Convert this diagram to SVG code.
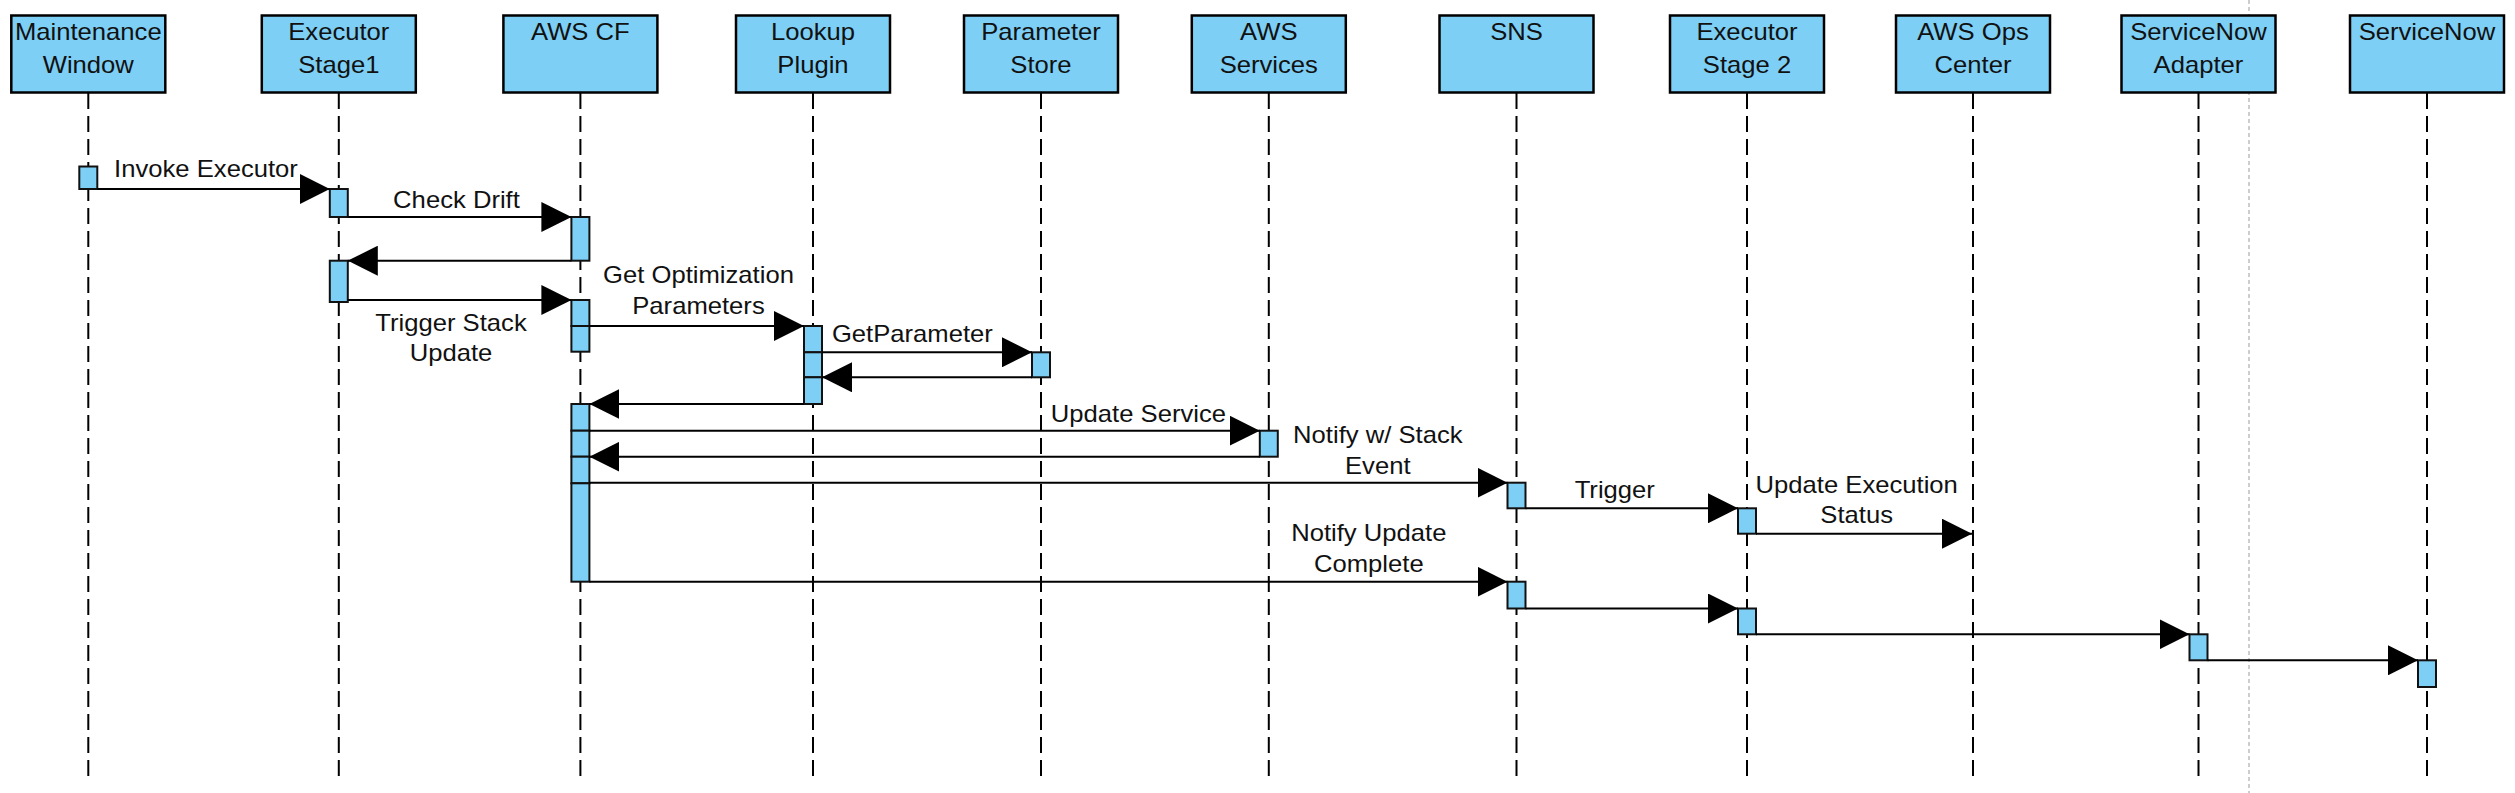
<svg xmlns="http://www.w3.org/2000/svg" width="2515" height="793" viewBox="0 0 2515 793">
<style>
.box{fill:#7dcff5;stroke:#000;stroke-width:2.5}
.act{fill:#7dcff5;stroke:#111;stroke-width:2}
.life{stroke:#000;stroke-width:2;stroke-dasharray:16 7;fill:none}
.msg{stroke:#000;stroke-width:2;fill:none;marker-end:url(#ah)}
.t{font-family:"Liberation Sans",Arial,sans-serif;font-size:23px;fill:#111;text-anchor:middle}
</style>
<defs>
<marker id="ah" markerUnits="userSpaceOnUse" markerWidth="30" markerHeight="30" refX="29" refY="14.5" orient="auto" viewBox="0 0 29 29"><path d="M0,0L29,14.5L0,29z" fill="#000"/></marker>
</defs>
<rect x="0" y="0" width="2515" height="793" fill="#fff"/>
<line x1="2249" y1="0" x2="2249" y2="793" stroke="#bdbdbd" stroke-width="1.5" stroke-dasharray="4 3"/>

<g id="maintenance-window">
<line class="life" x1="88.3" y1="93" x2="88.3" y2="780"/>
<rect class="box" x="11.3" y="15.5" width="154" height="77"/>
<text class="t" transform="scale(1.115,1)" x="79.19" y="40.5">Maintenance</text>
<text class="t" transform="scale(1.115,1)" x="79.19" y="73">Window</text>
<rect class="act" x="79.3" y="166.5" width="18" height="22.5"/>
</g>

<g id="executor-stage1">
<line class="life" x1="338.8" y1="93" x2="338.8" y2="780"/>
<rect class="box" x="261.8" y="15.5" width="154" height="77"/>
<text class="t" transform="scale(1.115,1)" x="303.86" y="40.5">Executor</text>
<text class="t" transform="scale(1.115,1)" x="303.86" y="73">Stage1</text>
<rect class="act" x="329.8" y="189" width="18" height="28"/>
<rect class="act" x="329.8" y="260.7" width="18" height="41.3"/>
</g>

<g id="aws-cf">
<line class="life" x1="580.4" y1="93" x2="580.4" y2="780"/>
<rect class="box" x="503.4" y="15.5" width="154" height="77"/>
<text class="t" transform="scale(1.115,1)" x="520.54" y="40.5">AWS CF</text>
<rect class="act" x="571.4" y="217" width="18" height="43.7"/>
<rect class="act" x="571.4" y="300" width="18" height="26"/>
<rect class="act" x="571.4" y="326" width="18" height="25.7"/>
<rect class="act" x="571.4" y="404" width="18" height="26.7"/>
<rect class="act" x="571.4" y="430.7" width="18" height="26"/>
<rect class="act" x="571.4" y="456.7" width="18" height="26.6"/>
<rect class="act" x="571.4" y="483.3" width="18" height="98.4"/>
</g>

<g id="lookup-plugin">
<line class="life" x1="813" y1="93" x2="813" y2="780"/>
<rect class="box" x="736" y="15.5" width="154" height="77"/>
<text class="t" transform="scale(1.115,1)" x="729.15" y="40.5">Lookup</text>
<text class="t" transform="scale(1.115,1)" x="729.15" y="73">Plugin</text>
<rect class="act" x="804" y="326" width="18" height="26.3"/>
<rect class="act" x="804" y="352.3" width="18" height="25"/>
<rect class="act" x="804" y="377.3" width="18" height="26.7"/>
</g>

<g id="parameter-store">
<line class="life" x1="1041" y1="93" x2="1041" y2="780"/>
<rect class="box" x="964" y="15.5" width="154" height="77"/>
<text class="t" transform="scale(1.115,1)" x="933.63" y="40.5">Parameter</text>
<text class="t" transform="scale(1.115,1)" x="933.63" y="73">Store</text>
<rect class="act" x="1032" y="352.3" width="18" height="25"/>
</g>

<g id="aws-services">
<line class="life" x1="1268.8" y1="93" x2="1268.8" y2="780"/>
<rect class="box" x="1191.8" y="15.5" width="154" height="77"/>
<text class="t" transform="scale(1.115,1)" x="1137.94" y="40.5">AWS</text>
<text class="t" transform="scale(1.115,1)" x="1137.94" y="73">Services</text>
<rect class="act" x="1259.8" y="430.7" width="18" height="26"/>
</g>

<g id="sns">
<line class="life" x1="1516.5" y1="93" x2="1516.5" y2="780"/>
<rect class="box" x="1439.5" y="15.5" width="154" height="77"/>
<text class="t" transform="scale(1.115,1)" x="1360.09" y="40.5">SNS</text>
<rect class="act" x="1507.5" y="482.7" width="18" height="25.6"/>
<rect class="act" x="1507.5" y="581.7" width="18" height="26.8"/>
</g>

<g id="executor-stage2">
<line class="life" x1="1747" y1="93" x2="1747" y2="780"/>
<rect class="box" x="1670" y="15.5" width="154" height="77"/>
<text class="t" transform="scale(1.115,1)" x="1566.82" y="40.5">Executor</text>
<text class="t" transform="scale(1.115,1)" x="1566.82" y="73">Stage 2</text>
<rect class="act" x="1738" y="508.3" width="18" height="25.4"/>
<rect class="act" x="1738" y="608.5" width="18" height="25.8"/>
</g>

<g id="aws-ops-center">
<line class="life" x1="1973" y1="93" x2="1973" y2="780"/>
<rect class="box" x="1896" y="15.5" width="154" height="77"/>
<text class="t" transform="scale(1.115,1)" x="1769.51" y="40.5">AWS Ops</text>
<text class="t" transform="scale(1.115,1)" x="1769.51" y="73">Center</text>
</g>

<g id="servicenow-adapter">
<line class="life" x1="2198.5" y1="93" x2="2198.5" y2="780"/>
<rect class="box" x="2121.5" y="15.5" width="154" height="77"/>
<text class="t" transform="scale(1.115,1)" x="1971.75" y="40.5">ServiceNow</text>
<text class="t" transform="scale(1.115,1)" x="1971.75" y="73">Adapter</text>
<rect class="act" x="2189.5" y="634.3" width="18" height="26"/>
</g>

<g id="servicenow">
<line class="life" x1="2427" y1="93" x2="2427" y2="780"/>
<rect class="box" x="2350" y="15.5" width="154" height="77"/>
<text class="t" transform="scale(1.115,1)" x="2176.68" y="40.5">ServiceNow</text>
<rect class="act" x="2418" y="660.3" width="18" height="26.7"/>
</g>

<g id="connectors">
<line class="msg" x1="97.3" y1="189" x2="329.8" y2="189"/>
<text class="t" transform="scale(1.115,1)" x="184.75" y="177.3">Invoke Executor</text>
<line class="msg" x1="347.8" y1="217" x2="571.4" y2="217"/>
<text class="t" transform="scale(1.115,1)" x="409.42" y="208.3">Check Drift</text>
<line class="msg" x1="571.4" y1="260.7" x2="347.8" y2="260.7"/>
<line class="msg" x1="347.8" y1="300" x2="571.4" y2="300"/>
<text class="t" transform="scale(1.115,1)" x="404.48" y="330.7">Trigger Stack</text>
<text class="t" transform="scale(1.115,1)" x="404.48" y="360.7">Update</text>
<line class="msg" x1="589.4" y1="326" x2="804" y2="326"/>
<text class="t" transform="scale(1.115,1)" x="626.46" y="283.3">Get Optimization</text>
<text class="t" transform="scale(1.115,1)" x="626.46" y="314">Parameters</text>
<line class="msg" x1="822" y1="352.3" x2="1032" y2="352.3"/>
<text class="t" transform="scale(1.115,1)" x="818.30" y="341.7">GetParameter</text>
<line class="msg" x1="1032" y1="377.3" x2="822" y2="377.3"/>
<line class="msg" x1="804" y1="404" x2="589.4" y2="404"/>
<line class="msg" x1="589.4" y1="430.7" x2="1259.8" y2="430.7"/>
<text class="t" transform="scale(1.115,1)" x="1020.99" y="421.7">Update Service</text>
<line class="msg" x1="1259.8" y1="456.7" x2="589.4" y2="456.7"/>
<line class="msg" x1="589.4" y1="482.7" x2="1507.5" y2="482.7"/>
<text class="t" transform="scale(1.115,1)" x="1235.70" y="443.3">Notify w/ Stack</text>
<text class="t" transform="scale(1.115,1)" x="1235.70" y="474">Event</text>
<line class="msg" x1="1525.5" y1="508.3" x2="1738" y2="508.3"/>
<text class="t" transform="scale(1.115,1)" x="1448.25" y="498.3">Trigger</text>
<line class="msg" x1="1756" y1="533.7" x2="1972" y2="533.7"/>
<text class="t" transform="scale(1.115,1)" x="1665.20" y="493.3">Update Execution</text>
<text class="t" transform="scale(1.115,1)" x="1665.20" y="523.3">Status</text>
<line class="msg" x1="589.4" y1="581.7" x2="1507.5" y2="581.7"/>
<text class="t" transform="scale(1.115,1)" x="1227.62" y="541">Notify Update</text>
<text class="t" transform="scale(1.115,1)" x="1227.62" y="571.7">Complete</text>
<line class="msg" x1="1525.5" y1="608.5" x2="1738" y2="608.5"/>
<line class="msg" x1="1756" y1="634.3" x2="2189.5" y2="634.3"/>
<line class="msg" x1="2207.5" y1="660.3" x2="2418" y2="660.3"/>
</g>
</svg>
